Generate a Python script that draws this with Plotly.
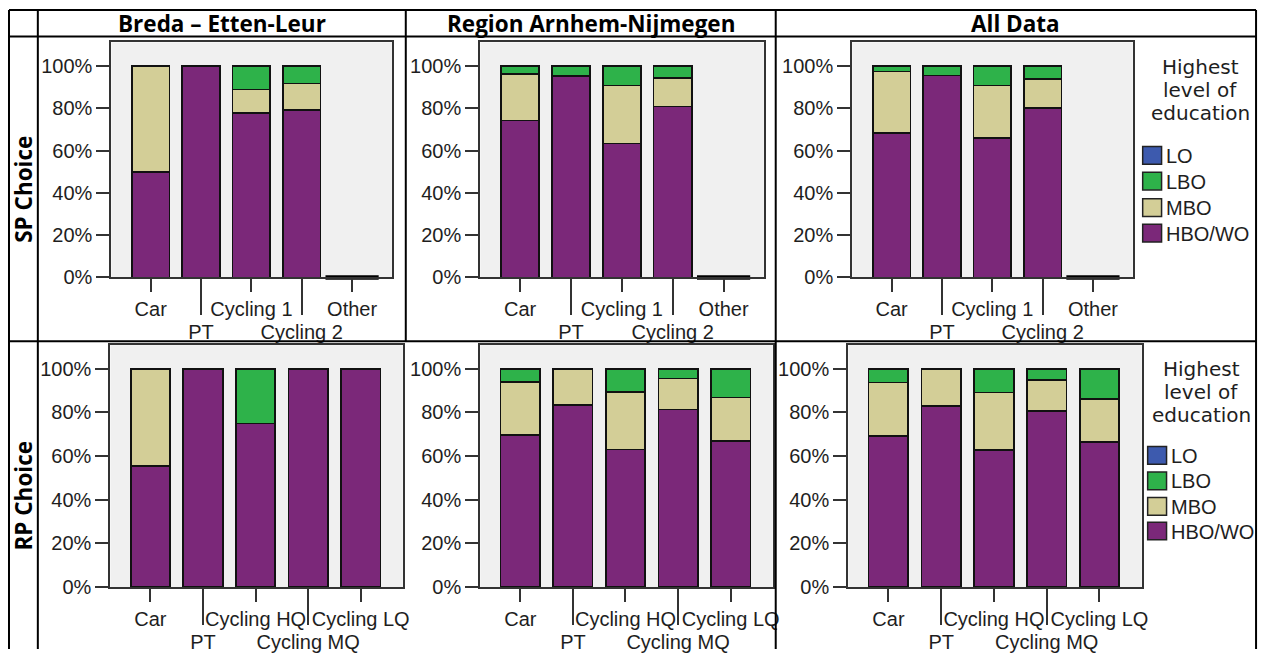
import plotly.graph_objects as go

# The page body adds an 8px margin, so the figure is 8px smaller and every
# reference pixel position is shifted by 8px when converted to paper units.
OFF = 8
W, H = 1272 - OFF, 660 - OFF

# ---------------- data ----------------
column_titles = ["Breda – Etten-Leur", "Region Arnhem-Nijmegen", "All Data"]
row_titles = ["SP Choice", "RP Choice"]
education_levels = ["HBO/WO", "MBO", "LBO", "LO"]          # bottom -> top of stack
legend_title_lines = ["Highest", "level of", "education"]
legend_items = ["LO", "LBO", "MBO", "HBO/WO"]              # top -> bottom in legend

sp_modes = ["Car", "PT", "Cycling 1", "Cycling 2", "Other"]
rp_modes = ["Car", "PT", "Cycling HQ", "Cycling MQ", "Cycling LQ"]
y_ticks = [0, 20, 40, 60, 80, 100]

# shares (%) per mode
sp_breda_hbo = [50.0, 100.0, 77.8, 79.2, 0.0]
sp_breda_mbo = [50.0, 0.0, 11.1, 12.5, 0.0]
sp_breda_lbo = [0.0, 0.0, 11.1, 8.3, 0.0]
sp_breda_lo = [0.0, 0.0, 0.0, 0.0, 0.0]

sp_arnhem_hbo = [74.3, 95.2, 63.4, 80.8, 0.0]
sp_arnhem_mbo = [22.0, 0.0, 27.4, 13.6, 0.0]
sp_arnhem_lbo = [3.7, 4.8, 9.2, 5.6, 0.0]
sp_arnhem_lo = [0.0, 0.0, 0.0, 0.0, 0.0]

sp_all_hbo = [68.4, 95.5, 66.0, 80.0, 0.0]
sp_all_mbo = [29.0, 0.0, 24.8, 14.0, 0.0]
sp_all_lbo = [2.6, 4.5, 9.2, 6.0, 0.0]
sp_all_lo = [0.0, 0.0, 0.0, 0.0, 0.0]

rp_breda_hbo = [55.6, 100.0, 75.0, 100.0, 100.0]
rp_breda_mbo = [44.4, 0.0, 0.0, 0.0, 0.0]
rp_breda_lbo = [0.0, 0.0, 25.0, 0.0, 0.0]
rp_breda_lo = [0.0, 0.0, 0.0, 0.0, 0.0]

rp_arnhem_hbo = [69.8, 83.4, 63.0, 81.3, 66.8]
rp_arnhem_mbo = [24.2, 16.6, 26.4, 14.2, 20.1]
rp_arnhem_lbo = [6.0, 0.0, 10.6, 4.5, 13.1]
rp_arnhem_lo = [0.0, 0.0, 0.0, 0.0, 0.0]

rp_all_hbo = [69.3, 83.1, 62.9, 80.6, 66.3]
rp_all_mbo = [24.4, 16.9, 26.2, 14.2, 19.8]
rp_all_lbo = [6.3, 0.0, 10.9, 5.2, 13.9]
rp_all_lo = [0.0, 0.0, 0.0, 0.0, 0.0]

# ---------------- styling ----------------
level_colors = {"HBO/WO": "#7B2879", "MBO": "#D3CE97", "LBO": "#2EB24A", "LO": "#3D5AAE"}
FRAME = "#333333"
TICK_FONT = dict(family="Liberation Sans, Arial, sans-serif", size=20, color="#1E1E1E")
HEAD_FONT = dict(family="Open Sans, sans-serif", size=22.5, color="#000000", weight="bold")
LEG_TITLE_FONT = dict(family="DejaVu Sans, sans-serif", size=20, color="#1E1E1E")
LEG_FONT = dict(family="Liberation Sans, Arial, sans-serif", size=20, color="#1E1E1E")

panels = [
    (0, 0, sp_modes, [sp_breda_hbo, sp_breda_mbo, sp_breda_lbo, sp_breda_lo]),
    (0, 1, sp_modes, [sp_arnhem_hbo, sp_arnhem_mbo, sp_arnhem_lbo, sp_arnhem_lo]),
    (0, 2, sp_modes, [sp_all_hbo, sp_all_mbo, sp_all_lbo, sp_all_lo]),
    (1, 0, rp_modes, [rp_breda_hbo, rp_breda_mbo, rp_breda_lbo, rp_breda_lo]),
    (1, 1, rp_modes, [rp_arnhem_hbo, rp_arnhem_mbo, rp_arnhem_lbo, rp_arnhem_lo]),
    (1, 2, rp_modes, [rp_all_hbo, rp_all_mbo, rp_all_lbo, rp_all_lo]),
]

# panel frames in reference pixels: (left, right, top, bottom)
boxes = {
    (0, 0): (112, 394, 43, 282),
    (0, 1): (483, 768, 43, 282),
    (0, 2): (857, 1139, 43, 282),
    (1, 0): (111, 405, 351, 597),
    (1, 1): (483, 777, 351, 597),
    (1, 2): (853, 1148, 351, 597),
}
x_ranges = {0: [-0.78, 4.79], 1: [-0.76, 4.80]}
y_ranges = {0: [0, 111.2], 1: [0, 110.8]}


def px(x):
    return (x - OFF) / W


def py(y):
    return 1 - (y - OFF) / H


def ax_id(k):
    return "" if k == 1 else str(k)


fig = go.Figure()
layout_axes = {}

for r, c, modes, series in panels:
    k = r * 3 + c + 1
    ko = k + 6
    xs = list(range(len(modes)))
    for level, vals in zip(education_levels, series):
        fig.add_trace(go.Bar(
            x=xs, y=vals, name=level,
            marker=dict(color=level_colors[level], line=dict(color="#111111", width=1.7)),
            xaxis="x" + ax_id(k), yaxis="y" + ax_id(k),
            showlegend=False,
            customdata=modes,
            hovertemplate="%{customdata}: %{y:.1f}%<extra>" + level + "</extra>",
        ))
    # empty categories (total 0%) are shown as a flat bar outline on the baseline
    totals = [sum(v) for v in zip(*series)]
    empty_x = [i for i, t in zip(xs, totals) if t == 0]
    empty_y = [t for t in totals if t == 0]
    if empty_x:
        fig.add_trace(go.Scatter(
            x=empty_x, y=empty_y, mode="markers",
            marker=dict(symbol="line-ew", size=38, line=dict(color="#000000", width=4.5)),
            xaxis="x" + ax_id(k), yaxis="y" + ax_id(k), cliponaxis=False,
            showlegend=False, hoverinfo="skip",
        ))
    # anchor trace for the staggered (lower) label axis
    fig.add_trace(go.Scatter(x=[None], y=[None], xaxis="x" + ax_id(ko), yaxis="y" + ax_id(k),
                             showlegend=False, hoverinfo="skip"))

    x0, x1, yt, yb = boxes[(r, c)]
    even = [i for i in xs if i % 2 == 0]
    odd = [i for i in xs if i % 2 == 1]
    layout_axes["xaxis" + ax_id(k)] = dict(
        domain=[px(x0), px(x1)], anchor="y" + ax_id(k), range=x_ranges[r],
        tickmode="array", tickvals=even, ticktext=[modes[i] for i in even],
        ticks="outside", ticklen=13, tickwidth=2, tickcolor=FRAME,
        showline=True, mirror=True, linecolor=FRAME, linewidth=2.2,
        showgrid=False, zeroline=False, tickfont=TICK_FONT, fixedrange=True,
    )
    layout_axes["xaxis" + ax_id(ko)] = dict(
        overlaying="x" + ax_id(k), anchor="y" + ax_id(k), range=x_ranges[r], side="bottom",
        tickmode="array", tickvals=odd, ticktext=[modes[i] for i in odd],
        ticks="outside", ticklen=37, tickwidth=2, tickcolor=FRAME,
        showline=False, showgrid=False, zeroline=False, tickfont=TICK_FONT, fixedrange=True,
    )
    layout_axes["yaxis" + ax_id(k)] = dict(
        domain=[py(yb), py(yt)], anchor="x" + ax_id(k), range=y_ranges[r],
        tickmode="array", tickvals=y_ticks, ticktext=[f"{v}%" for v in y_ticks],
        ticks="outside", ticklen=13, tickwidth=2, tickcolor=FRAME,
        showline=True, mirror=True, linecolor=FRAME, linewidth=2.2,
        showgrid=False, zeroline=False, tickfont=TICK_FONT, fixedrange=True,
    )

# ---------------- table grid ----------------
shapes = []
LINE = dict(color="#000000", width=2)
for yline in (10, 37, 347):
    shapes.append(dict(type="line", xref="paper", yref="paper",
                       x0=px(9), x1=px(1263), y0=py(yline), y1=py(yline), line=LINE))
for xline, ytop, ybot in ((9, 10, 660), (38, 10, 660), (408, 10, 347), (780, 10, 660), (1263, 10, 660)):
    shapes.append(dict(type="line", xref="paper", yref="paper",
                       x0=px(xline), x1=px(xline), y0=py(ytop), y1=py(ybot), line=LINE))

annotations = []
col_centers = [223, 594, 1021.5]
for title, cx in zip(column_titles, col_centers):
    annotations.append(dict(text=title, x=px(cx), y=py(23.5), xref="paper", yref="paper",
                            xanchor="center", yanchor="middle", showarrow=False, font=HEAD_FONT))
for title, cy in zip(row_titles, (192, 504)):
    annotations.append(dict(text=title, x=px(24), y=py(cy), xref="paper", yref="paper",
                            xanchor="center", yanchor="middle", showarrow=False,
                            textangle=-90, font=HEAD_FONT))

# ---------------- legends (one per row) ----------------
legend_pos = [
    dict(title_cx=1207, title_y=[68, 91.5, 115], sw_x=1149, sw_y=[149, 175, 202, 228]),
    dict(title_cx=1208, title_y=[375, 398.5, 422], sw_x=1154, sw_y=[454, 480, 506, 531]),
]
for lp in legend_pos:
    for line, ty in zip(legend_title_lines, lp["title_y"]):
        annotations.append(dict(text=line, x=px(lp["title_cx"]), y=py(ty), xref="paper", yref="paper",
                                xanchor="center", yanchor="middle", showarrow=False,
                                font=LEG_TITLE_FONT))
    for item, sy in zip(legend_items, lp["sw_y"]):
        shapes.append(dict(type="rect", xref="paper", yref="paper",
                           x0=px(lp["sw_x"]), x1=px(lp["sw_x"] + 19), y0=py(sy), y1=py(sy + 18),
                           fillcolor=level_colors[item], line=dict(color="#222222", width=1.5)))
        annotations.append(dict(text=item, x=px(lp["sw_x"] + 21), y=py(sy + 9.5), xref="paper", yref="paper",
                                xanchor="left", yanchor="middle", showarrow=False,
                                font=LEG_FONT))

fig.update_layout(
    width=W, height=H, autosize=False,
    margin=dict(l=0, r=0, t=0, b=0),
    paper_bgcolor="white", plot_bgcolor="#F0F0F0",
    barmode="stack", bargap=0.25,
    showlegend=False,
    shapes=shapes, annotations=annotations,
    **layout_axes,
)

fig.write_html("out.html")
